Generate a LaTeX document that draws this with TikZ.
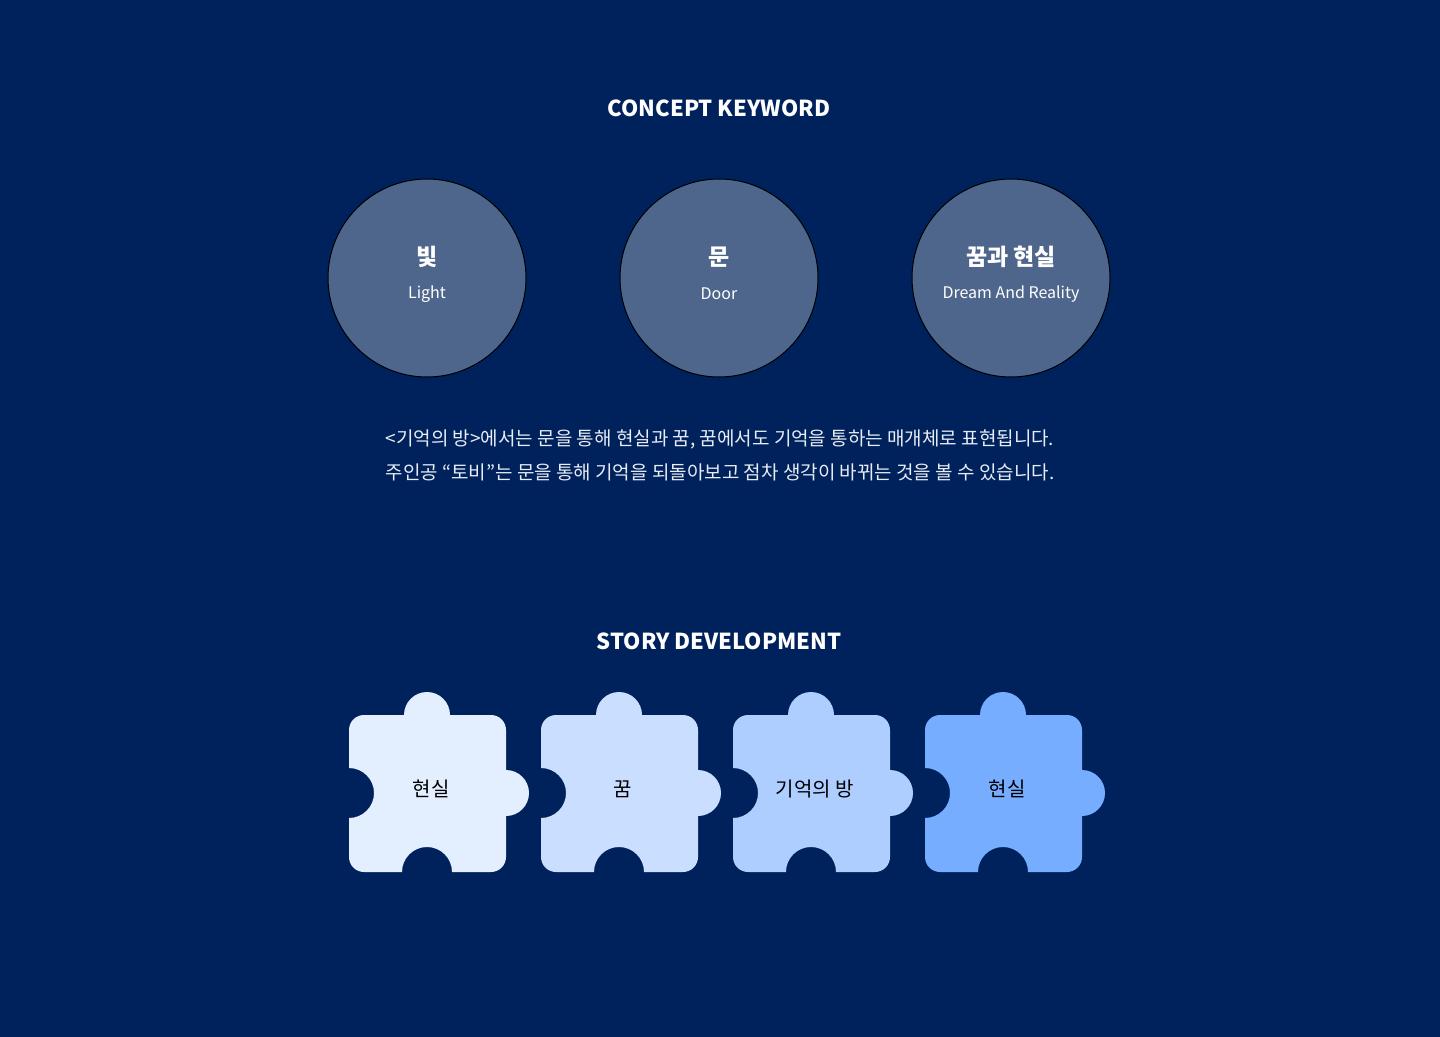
\documentclass[tikz,border=0pt]{standalone}
\usepackage{fontspec}
\setmainfont{Noto Sans CJK KR}
\usetikzlibrary{calc,positioning}
\definecolor{navy}{HTML}{00225C}
\definecolor{slate}{HTML}{4F668C}
\definecolor{ice}{HTML}{E3EEFF}
\definecolor{frost}{HTML}{CADFFF}
\definecolor{sky}{HTML}{ADCEFF}
\definecolor{azure}{HTML}{76ADFF}
\definecolor{mist}{HTML}{E8ECF4}

\begin{document}
\begin{tikzpicture}[x=0.5pt, y=0.5pt, text=white,
  heading/.style={font=\bfseries\fontsize{11}{13}\selectfont},
  kwcircle/.style={circle, draw=black, line width=0.5pt, fill=slate, minimum size=99pt, inner sep=0pt},
  kwtitle/.style={font=\bfseries\fontsize{11.5}{13}\selectfont},
  kwsub/.style={font=\fontsize{8}{10}\selectfont},
  desc/.style={font=\fontsize{9.5}{17}\selectfont, text=mist, align=center},
  piecelabel/.style={font=\fontsize{10}{12}\selectfont, text=black}]
  \fill[navy] (0,0) rectangle (1440,-1037);

  \node[heading] (concept) at (719,-108) {CONCEPT KEYWORD};
  \node[kwcircle] (light) at (427,-278) {};
  \node[kwcircle] (door) at (719,-278) {};
  \node[kwcircle] (dream) at (1011,-278) {};
  \node[kwtitle] (lightk) at ($(light)+(0,21)$) {빛};
  \node[kwsub] (lighte) at ($(light)+(0,-16)$) {Light};
  \node[kwtitle] (doork) at ($(door)+(0,21)$) {문};
  \node[kwsub] (doore) at ($(door)+(0,-16)$) {Door};
  \node[kwtitle] (dreamk) at ($(dream)+(0,21)$) {꿈과 현실};
  \node[kwsub] (dreame) at ($(dream)+(0,-16)$) {Dream And Reality};

  \node[desc] (story) at (720,-455) {<기억의 방>에서는 문을 통해 현실과 꿈, 꿈에서도 기억을 통하는 매개체로 표현됩니다.\\주인공 “토비"는 문을 통해 기억을 되돌아보고 점차 생각이 바뀌는 것을 볼 수 있습니다.};

  \node[heading] (develop) at (719,-641) {STORY DEVELOPMENT};
  \foreach \i/\col/\txt in {0/ice/현실, 1/frost/꿈, 2/sky/기억의 방, 3/azure/현실}{
    \fill[\col, shift={(349+192*\i,-715)}] (0,-15) arc[start angle=180, end angle=90, radius=15]
      -- (55,0) arc[start angle=180, end angle=0, radius=23]
      -- (142,0) arc[start angle=90, end angle=0, radius=15]
      -- (157,-55) arc[start angle=90, end angle=-90, radius=23]
      -- (157,-142) arc[start angle=0, end angle=-90, radius=15]
      -- (103,-157) arc[start angle=0, end angle=180, radius=25]
      -- (15,-157) arc[start angle=-90, end angle=-180, radius=15]
      -- (0,-103) arc[start angle=-90, end angle=90, radius=25]
      -- cycle;
    \node[piecelabel] (p\i) at (431+192*\i,-789) {\txt};
  }
\end{tikzpicture}
\end{document}
